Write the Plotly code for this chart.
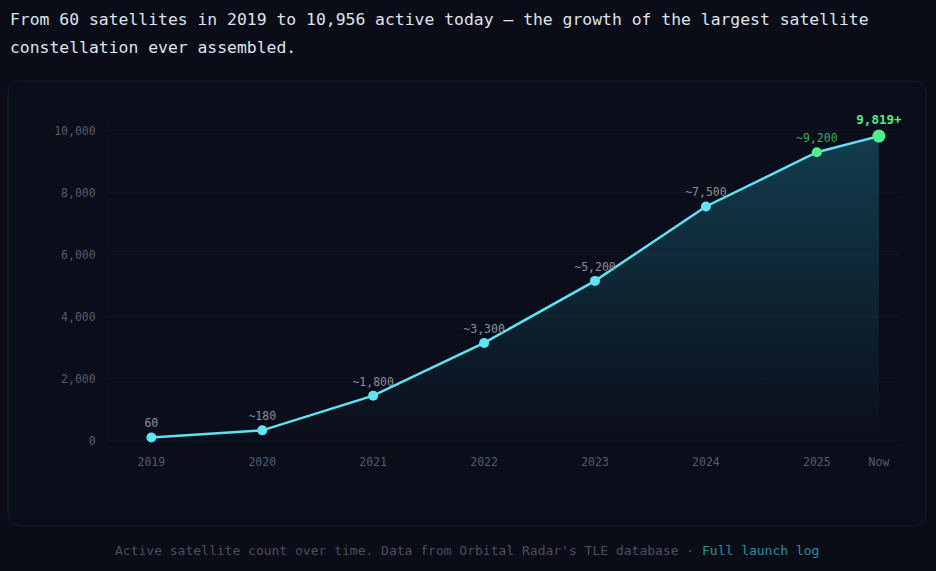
import plotly.graph_objects as go

# active satellites over time (point heights)
years = [2019, 2020, 2021, 2022, 2023, 2024, 2025, 2025.56]
tick_labels = ["2019", "2020", "2021", "2022", "2023", "2024", "2025", "Now"]
active = [100, 330, 1450, 3150, 5150, 7550, 9300, 9819]
point_labels = ["60", "~180", "~1,800", "~3,300", "~5,200", "~7,500", "~9,200", "9,819+"]

W, H = 936, 571
L, R, T, B = 107, 36, 115, 118
MONO = "DejaVu Sans Mono, Liberation Mono, monospace"

CYAN = "#5fe3f3"
GREEN = "#4ff08a"


def px(x):
    return (x - L) / (W - L - R)


def py(y):
    return (H - B - y) / (H - T - B)


def rounded_box(x0, y0, x1, y1, r):
    # rounded rectangle in paper coords, built from pixel positions
    pts = [
        f"M {px(x0 + r)},{py(y0)}",
        f"L {px(x1 - r)},{py(y0)}",
        f"Q {px(x1)},{py(y0)} {px(x1)},{py(y0 + r)}",
        f"L {px(x1)},{py(y1 - r)}",
        f"Q {px(x1)},{py(y1)} {px(x1 - r)},{py(y1)}",
        f"L {px(x0 + r)},{py(y1)}",
        f"Q {px(x0)},{py(y1)} {px(x0)},{py(y1 - r)}",
        f"L {px(x0)},{py(y0 + r)}",
        f"Q {px(x0)},{py(y0)} {px(x0 + r)},{py(y0)}",
        "Z",
    ]
    return " ".join(pts)


# last label is the headline number, shown bold
shown_labels = point_labels[:-1] + ["<b>" + point_labels[-1] + "</b>"]
label_colors = ["#8a8f9b"] * 6 + ["#3aa866", GREEN]
label_sizes = [11.5] * 7 + [12.5]
marker_colors = [CYAN] * 6 + [GREEN, GREEN]
marker_sizes = [10] * 7 + [13]

fig = go.Figure()
fig.add_trace(go.Scatter(
    x=years, y=active,
    mode="lines+markers+text",
    text=shown_labels,
    textposition="top center",
    textfont=dict(family=MONO, size=label_sizes, color=label_colors),
    line=dict(color=CYAN, width=2.5),
    marker=dict(color=marker_colors, size=marker_sizes, opacity=1, line=dict(width=0)),
    fill="tozeroy",
    fillgradient=dict(
        type="vertical",
        colorscale=[[0, "rgba(40,190,220,0.0)"], [1, "rgba(40,190,220,0.26)"]],
    ),
    hoverinfo="skip",
    cliponaxis=False,
))

fig.update_layout(
    width=W, height=H,
    margin=dict(l=L, r=R, t=T, b=B),
    paper_bgcolor="#0a0d18",
    plot_bgcolor="rgba(0,0,0,0)",
    showlegend=False,
    font=dict(family=MONO, color="#4b5263"),
    xaxis=dict(
        range=[2018.6, 2025.75],
        tickvals=years, ticktext=tick_labels,
        showgrid=False, zeroline=False, showline=False,
        tickfont=dict(size=11.5, color="#555c6c"),
        ticks="", ticklabelstandoff=0,
    ),
    yaxis=dict(
        range=[-400, 10500],
        tickvals=[0, 2000, 4000, 6000, 8000, 10000],
        ticktext=["0", "2,000", "4,000", "6,000", "8,000", "10,000"],
        showgrid=True, gridcolor="#0f1421", gridwidth=1,
        zeroline=False, showline=True, linecolor="#0f1421",
        tickfont=dict(size=11.5, color="#555c6c"),
        ticklabelstandoff=8,
    ),
    shapes=[dict(
        type="path", xref="paper", yref="paper", layer="below",
        path=rounded_box(8, 81, 926, 526, 13),
        fillcolor="#0a0e1a", line=dict(color="#161c2b", width=1),
    )],
    annotations=[
        dict(text="From 60 satellites in 2019 to 10,956 active today — the growth of the largest satellite",
             xref="paper", yref="paper", x=px(8), y=py(19), xanchor="left", yanchor="middle",
             showarrow=False, font=dict(family=MONO, size=16.4, color="#dfe3ea")),
        dict(text="constellation ever assembled.",
             xref="paper", yref="paper", x=px(8), y=py(47), xanchor="left", yanchor="middle",
             showarrow=False, font=dict(family=MONO, size=16.4, color="#dfe3ea")),
        dict(text="Active satellite count over time. Data from Orbital Radar's TLE database · "
                  "<span style='color:#2a8f9c'>Full launch log</span>",
             xref="paper", yref="paper", x=px(467), y=py(550), xanchor="center", yanchor="middle",
             showarrow=False, font=dict(family=MONO, size=13, color="#4a4f5c")),
    ],
)

# drop the default page margin so the figure sits at the window's corner
fig.write_html(
    "out.html",
    config={"displayModeBar": False},
    post_script="document.body.style.margin='0';document.body.style.background='#0a0d18';",
)
